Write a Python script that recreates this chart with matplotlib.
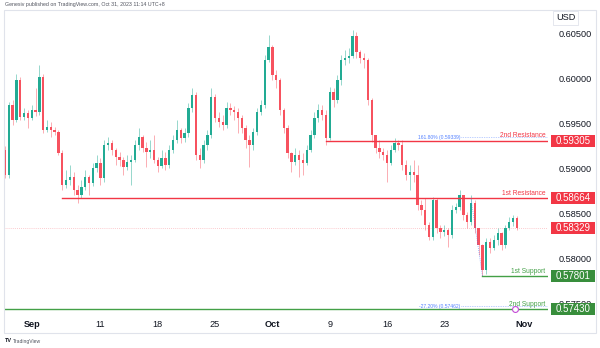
"""NZD/USD 8h candles with support / resistance levels (TradingView style)."""

import matplotlib.pyplot as plt
import matplotlib.transforms as mtransforms
from matplotlib.patches import Rectangle

# ---- data -----------------------------------------------------------------
first_open = 0.5920
closes = [
    0.5892, 0.5970, 0.5953, 0.5998, 0.5957, 0.5961, 0.5956, 0.5964, 0.5962, 0.6001,
    0.5942, 0.5946, 0.5942, 0.5940, 0.5917, 0.5881, 0.5887, 0.5890, 0.5876, 0.5870,
    0.5879, 0.5890, 0.5883, 0.5900, 0.5906, 0.5889, 0.5926, 0.5928, 0.5920, 0.5912,
    0.5909, 0.5901, 0.5907, 0.5909, 0.5926, 0.5934, 0.5922, 0.5918, 0.5920, 0.5909,
    0.5902, 0.5911, 0.5903, 0.5920, 0.5931, 0.5942, 0.5933, 0.5939, 0.5967, 0.5981,
    0.5914, 0.5909, 0.5926, 0.5937, 0.5979, 0.5956, 0.5951, 0.5948, 0.5967, 0.5964,
    0.5962, 0.5956, 0.5944, 0.5931, 0.5926, 0.5940, 0.5962, 0.5970, 0.6020, 0.6034,
    0.6003, 0.5998, 0.5964, 0.5944, 0.5917, 0.5907, 0.5914, 0.5909, 0.5906, 0.5920,
    0.5937, 0.5956, 0.5964, 0.5959, 0.5933, 0.5984, 0.5976, 0.5998, 0.6020, 0.6022,
    0.6025, 0.6047, 0.6029, 0.6022, 0.6020, 0.5976, 0.5937, 0.5922, 0.5918, 0.5914,
    0.5906, 0.5920, 0.5928, 0.5926, 0.5903, 0.5892, 0.5896, 0.5892, 0.5859, 0.5853,
    0.5837, 0.5823, 0.5864, 0.5833, 0.5829, 0.5831, 0.5826, 0.5853, 0.5857, 0.5870,
    0.5848, 0.5840, 0.5861, 0.5833, 0.5814, 0.5787, 0.5818, 0.5811, 0.5820, 0.5828,
    0.5814, 0.5833, 0.5840, 0.5844, 0.58329,
]
highs = [
    0.5924, 0.5973, 0.5976, 0.6004, 0.6001, 0.5967, 0.5964, 0.5970, 0.5989, 0.6014,
    0.6004, 0.5953, 0.5951, 0.5946, 0.5942, 0.5920, 0.5898, 0.5903, 0.5896, 0.5881,
    0.5887, 0.5898, 0.5892, 0.5906, 0.5914, 0.5911, 0.5931, 0.5934, 0.5931, 0.5922,
    0.5918, 0.5912, 0.5914, 0.5914, 0.5931, 0.5944, 0.5937, 0.5929, 0.5931, 0.5937,
    0.5912, 0.5920, 0.5918, 0.5926, 0.5937, 0.5953, 0.5944, 0.5944, 0.5972, 0.5989,
    0.5984, 0.5922, 0.5931, 0.5942, 0.5989, 0.5982, 0.5962, 0.5959, 0.5973, 0.5972,
    0.5969, 0.5967, 0.5959, 0.5948, 0.5937, 0.5944, 0.5967, 0.5976, 0.6026, 0.6048,
    0.6037, 0.6009, 0.6000, 0.5967, 0.5948, 0.5918, 0.5922, 0.5920, 0.5917, 0.5926,
    0.5942, 0.5962, 0.5971, 0.5970, 0.5964, 0.5990, 0.5989, 0.6003, 0.6026, 0.6031,
    0.6033, 0.6053, 0.6051, 0.6031, 0.6028, 0.6022, 0.5978, 0.5937, 0.5931, 0.5922,
    0.5920, 0.5926, 0.5933, 0.5931, 0.5931, 0.5909, 0.5903, 0.5909, 0.5903, 0.5864,
    0.5867, 0.5840, 0.5868, 0.5867, 0.5837, 0.5837, 0.5833, 0.5859, 0.5861, 0.5876,
    0.5870, 0.5851, 0.5870, 0.5864, 0.5833, 0.5816, 0.5822, 0.5822, 0.5826, 0.5833,
    0.5829, 0.5837, 0.5846, 0.5848, 0.5847,
]
lows = [
    0.5889, 0.5889, 0.5948, 0.5951, 0.5953, 0.5953, 0.5944, 0.5953, 0.5958, 0.5959,
    0.5939, 0.5940, 0.5934, 0.5937, 0.5914, 0.5876, 0.5878, 0.5881, 0.5870, 0.5861,
    0.5867, 0.5876, 0.5870, 0.5880, 0.5896, 0.5881, 0.5884, 0.5920, 0.5914, 0.5903,
    0.5902, 0.5892, 0.5898, 0.5881, 0.5907, 0.5920, 0.5918, 0.5901, 0.5911, 0.5906,
    0.5896, 0.5900, 0.5898, 0.5900, 0.5917, 0.5928, 0.5928, 0.5929, 0.5934, 0.5962,
    0.5909, 0.5900, 0.5906, 0.5920, 0.5933, 0.5951, 0.5946, 0.5942, 0.5944, 0.5959,
    0.5953, 0.5939, 0.5939, 0.5922, 0.5901, 0.5920, 0.5937, 0.5959, 0.5967, 0.6018,
    0.5998, 0.5989, 0.5959, 0.5939, 0.5911, 0.5896, 0.5903, 0.5890, 0.5892, 0.5903,
    0.5918, 0.5933, 0.5951, 0.5953, 0.5926, 0.5931, 0.5968, 0.5972, 0.5992, 0.6014,
    0.6017, 0.6022, 0.6022, 0.6017, 0.6011, 0.5970, 0.5929, 0.5917, 0.5911, 0.5909,
    0.5884, 0.5903, 0.5918, 0.5920, 0.5898, 0.5887, 0.5876, 0.5884, 0.5853, 0.5848,
    0.5831, 0.5820, 0.5820, 0.5828, 0.5822, 0.5824, 0.5812, 0.5822, 0.5850, 0.5853,
    0.5842, 0.5833, 0.5837, 0.5828, 0.5803, 0.5780, 0.5782, 0.5806, 0.5809, 0.5814,
    0.5809, 0.5811, 0.5831, 0.5836, 0.5831,
]

# trading-day index (Aug 29 = 0) of each date label, 3 candles per day
tick_days = [3, 9, 14, 19, 24, 29, 34, 39, 46]
tick_labels = ["Sep", "11", "18", "25", "Oct", "9", "16", "23", "Nov"]
month_labels = {"Sep", "Oct", "Nov"}

price_ticks = [0.605, 0.600, 0.595, 0.590, 0.585, 0.580, 0.575]

level_prices = [0.59305, 0.58664, 0.57801, 0.57430]
level_names = ["2nd Resistance", "1st Resistance", "1st Support", "2nd Support"]
level_from = [84, 15, 125, None]        # candle where each line is anchored
level_is_res = [True, True, False, False]

fib_prices = [0.59339, 0.57462]
fib_names = ["161.80% (0.59339)", "-27.20% (0.57462)"]

last_price = closes[-1]

# ---- style ----------------------------------------------------------------
UP = "#22ab94"
DOWN = "#f7525f"
RED = "#f23645"
GREEN = "#43a047"
GREEN_BOX = "#388e3c"
FIB = "#2962ff"
plt.rcParams["font.family"] = ["Liberation Sans", "DejaVu Sans"]

fig = plt.figure(figsize=(6, 3.48), dpi=100)
fig.patch.set_facecolor("white")
W, H = 600, 348
ax = fig.add_axes([4 / W, 1 - 314 / H, 544 / W, 304 / H])

opens = [first_open] + closes[:-1]
xs = list(range(len(closes)))
for i, o, c, h, l in zip(xs, opens, closes, highs, lows):
    col = UP if c >= o else DOWN
    ax.vlines(i, l, h, color=col, lw=0.6, alpha=0.55, zorder=2)
    ax.bar(i, max(abs(c - o), 0.00004), bottom=min(o, c), width=0.62,
           color=col, linewidth=0, zorder=3)

ax.set_xlim(-0.26, 142.15)
ax.set_ylim(0.573778, 0.607556)
for s in ax.spines.values():
    s.set_visible(False)
xstart, xend = ax.get_xlim()

# x axis
ax.set_xticks([3 * d - 2 for d in tick_days])
ax.set_xticklabels(tick_labels)
ax.tick_params(axis="x", length=0, pad=4, labelsize=6.6, labelcolor="#131722")
for lab in ax.get_xticklabels():
    if lab.get_text() in month_labels:
        lab.set_fontweight("bold")

# price scale on the right
ax.yaxis.tick_right()
ax.set_yticks(price_ticks)
ax.set_yticklabels([f"{p:.5f}" for p in price_ticks])
ax.tick_params(axis="y", length=0, pad=8, labelsize=6.6, labelcolor="#131722")

blend = mtransforms.blended_transform_factory(ax.transAxes, ax.transData)

# last price line
ax.axhline(last_price, color=RED, lw=0.6, ls=(0, (1, 1.5)), alpha=0.35, zorder=1)

# support / resistance lines
for p, name, start, res in zip(level_prices, level_names, level_from, level_is_res):
    col = RED if res else GREEN
    x0 = xstart if start is None else start
    ax.plot([x0, xend], [p, p], color=col, lw=1.0, zorder=4)
    ax.text(0.995, p + 0.00012, name, transform=blend, ha="right", va="bottom",
            fontsize=4.8, color=col, zorder=5)

# fib extension labels
for p, name in zip(fib_prices, fib_names):
    ax.plot([119.5, xend], [p, p], color=FIB, lw=0.5, ls=(0, (1, 1.5)),
            alpha=0.6, zorder=4)
    ax.text(119.3, p, name, ha="right", va="center", fontsize=3.6, color=FIB,
            alpha=0.8, zorder=5)
ax.plot([122, 125], [0.5866, 0.5780], color=FIB, lw=0.6, ls=(0, (1, 1.5)),
        alpha=0.6, zorder=4)

# event marker
ax.scatter([133.5], [0.57430], s=18, facecolor="white", edgecolor="#c44ad6",
           linewidth=0.8, zorder=6)

# price boxes on the scale (12 px tall, 44 px wide)
box_prices = level_prices[:2] + [last_price] + level_prices[2:]
box_cols = [RED, RED, RED, GREEN_BOX, GREEN_BOX]
bx0, bw = (551 - 4) / 544, 44 / 544
bh = 12 / 9000
for p, col in zip(box_prices, box_cols):
    ax.add_patch(Rectangle((bx0, p - bh / 2), bw, bh, transform=blend,
                           fc=col, ec="none", zorder=6, clip_on=False))
    ax.text(bx0 + bw / 2, p, f"{p:.5f}", transform=blend, ha="center",
            va="center", fontsize=7.0, color="white", zorder=7, clip_on=False)

# USD box
fig.text(556 / W, 1 - 18 / H, "USD", ha="left", va="center", fontsize=6.6,
         color="#131722",
         bbox=dict(boxstyle="square,pad=0.3", fc="white", ec="#e0e3eb", lw=0.6))

# chart frame
fig.patches.append(Rectangle((4 / W, 1 - 333 / H), 592 / W, 323 / H,
                             transform=fig.transFigure, fill=False,
                             ec="#e0e3eb", lw=0.8))

fig.text(5 / W, 1 - 4.5 / H,
         "Genesiv published on TradingView.com, Oct 31, 2023 11:14 UTC+8",
         ha="left", va="center", fontsize=3.8, color="#50535e")
fig.text(5 / W, 1 - 341 / H, "TV", ha="left", va="center", fontsize=4,
         fontweight="bold", color="#131722")
fig.text(13 / W, 1 - 341 / H, "TradingView", ha="left", va="center",
         fontsize=3.6, color="#50535e")

fig.savefig("out.png", dpi=100)
plt.close(fig)
